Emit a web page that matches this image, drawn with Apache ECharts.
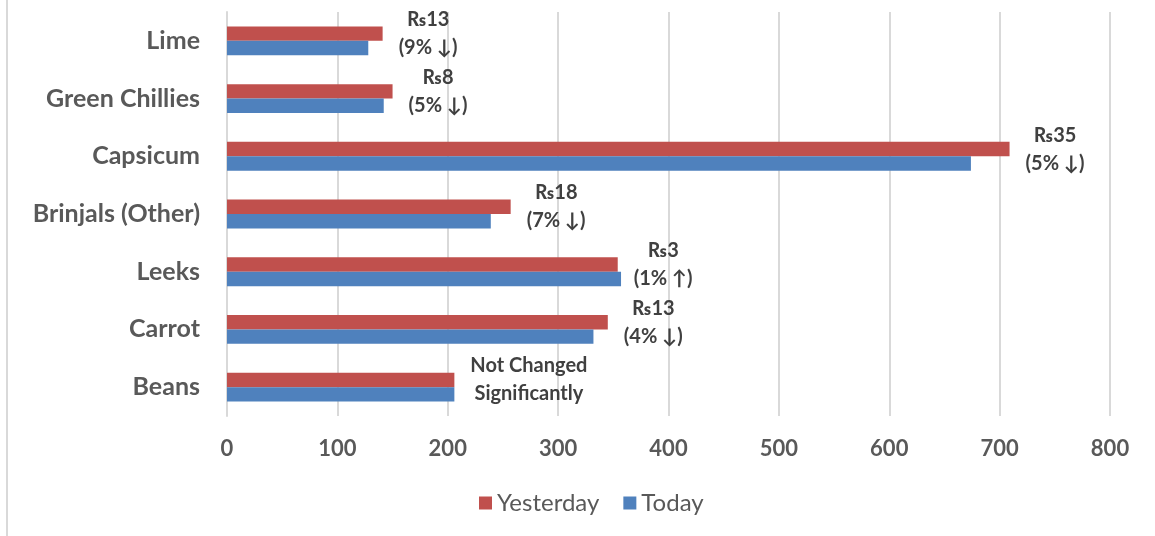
<!DOCTYPE html>
<html>
<head>
<meta charset="utf-8">
<script src="https://cdn.jsdelivr.net/npm/echarts@6/dist/echarts.min.js"></script>
<style>
  html, body { margin: 0; padding: 0; background: #fff; }
  #main { width: 1155px; height: 536px; }
</style>
</head>
<body>
<div id="main"></div>
<script>
var categories = ['Lime', 'Green Chillies', 'Capsicum', 'Brinjals (Other)', 'Leeks', 'Carrot', 'Beans'];
var yesterday = [141, 150, 709, 257, 354, 345, 206];
var today = [128, 142, 674, 239, 357, 332, 206];
var labelTop = ['₨13', '₨8', '₨35', '₨18', '₨3', '₨13', 'Not Changed'];
var labelBottom = ['(9% ↓)', '(5% ↓)', '(5% ↓)', '(7% ↓)', '(1% ↑)', '(4% ↓)', 'Significantly'];

var myChart = echarts.init(document.getElementById('main'));
var font = 'Lato, "Open Sans", "DejaVu Sans", sans-serif';

var option = {
    animation: false,
    textStyle: { fontFamily: font },
    grid: { left: 227, right: 45, top: 12, bottom: 120 },
    legend: {
        bottom: 16,
        left: 474,
        itemWidth: 13,
        itemHeight: 13,
        itemGap: 24,
        icon: 'rect',
        textStyle: { fontSize: 24, color: '#595959', fontFamily: font },
        data: ['Yesterday', 'Today']
    },
    xAxis: {
        type: 'value',
        min: 0,
        max: 800,
        interval: 100,
        axisLine: { show: false },
        axisTick: { show: false },
        splitLine: { lineStyle: { color: '#d9d9d9', width: 2 } },
        axisLabel: { fontSize: 22, fontWeight: 'bold', color: '#595959', margin: 22 }
    },
    yAxis: {
        type: 'category',
        inverse: true,
        data: categories,
        axisLine: { lineStyle: { color: '#d9d9d9', width: 2 } },
        axisTick: { show: false },
        axisLabel: { fontSize: 25, fontWeight: 'bold', color: '#595959', margin: 27 }
    },
    series: [
        {
            name: 'Yesterday',
            type: 'bar',
            data: yesterday,
            barGap: '0%',
            barCategoryGap: '50%',
            itemStyle: { color: '#C0504D' },
            label: {
                show: true,
                position: 'right',
                distance: 16,
                formatter: function (p) {
                    return '{a|' + labelTop[p.dataIndex] + '}\n{a|' + labelBottom[p.dataIndex] + '}';
                },
                rich: {
                    a: { fontSize: 20, fontWeight: 'bold', color: '#404040', lineHeight: 28, align: 'center', fontFamily: font }
                }
            }
        },
        {
            name: 'Today',
            type: 'bar',
            data: today,
            itemStyle: { color: '#4F81BD' }
        }
    ],
    graphic: [
        {
            type: 'line',
            shape: { x1: 7, y1: 0, x2: 7, y2: 536 },
            style: { stroke: '#d9d9d9', lineWidth: 2 }
        }
    ]
};
myChart.setOption(option);
</script>
</body>
</html>
